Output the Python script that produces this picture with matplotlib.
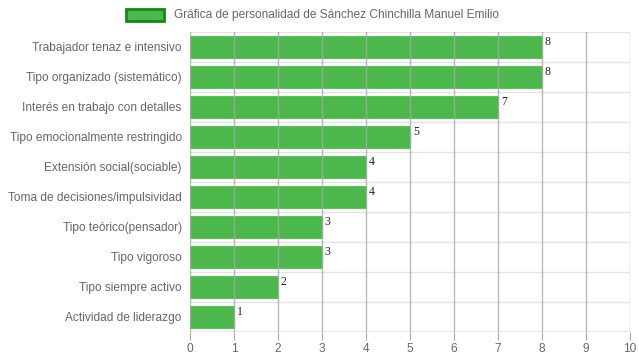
import matplotlib
matplotlib.use("Agg")
from matplotlib import pyplot as plt
from matplotlib.patches import Rectangle
import numpy as np

categories = [
    "Trabajador tenaz e intensivo",
    "Tipo organizado (sistemático)",
    "Interés en trabajo con detalles",
    "Tipo emocionalmente restringido",
    "Extensión social(sociable)",
    "Toma de decisiones/impulsividad",
    "Tipo teórico(pensador)",
    "Tipo vigoroso",
    "Tipo siempre activo",
    "Actividad de liderazgo",
]
values = [8, 8, 7, 5, 4, 4, 3, 3, 2, 1]
legend_label = "Gráfica de personalidad de Sánchez Chinchilla Manuel Emilio"

W, H = 639, 360
fig = plt.figure(figsize=(W / 100, H / 100), dpi=100)
ax = fig.add_axes([190 / W, 1 - 332 / H, 440 / W, 300 / H])

n = len(categories)
y = np.arange(n)
bar_color = "#4cb84c"
ax.barh(y, values, height=0.73, color=bar_color, edgecolor="#5cc45c",
        linewidth=0.8, zorder=2)

ax.set_xlim(0, 10)
ax.set_ylim(n - 0.5, -0.5)

# grid
for xv in range(0, 11):
    ax.axvline(xv, color="#a8a8a8", lw=1.0, zorder=3, alpha=0.8)
for k in range(n + 1):
    ax.axhline(k - 0.5, color="#e4e4e4", lw=1.0, zorder=1)
ax.axhline(n - 0.5, color="#999999", lw=1.0, zorder=3)

ax.set_yticks(y)
ax.set_yticklabels(categories, fontsize=8.6, color="#666666", family="Liberation Sans")
ax.set_xticks(range(0, 11))
ax.set_xticklabels([str(i) for i in range(0, 11)], fontsize=8.6, color="#666666",
                   family="Liberation Sans")
ax.tick_params(axis="y", length=0, pad=6)
ax.tick_params(axis="x", length=6, color="#a8a8a8", pad=2)
for s in ax.spines.values():
    s.set_visible(False)

for yi, v in zip(y, values):
    ax.annotate(str(v), (v, yi - 0.38), xytext=(2, 0), textcoords="offset points",
                ha="left", va="top", fontsize=8.5, family="Liberation Serif",
                color="#222222", zorder=4)

# legend (Chart.js style)
fig.patches.append(Rectangle((126 / W, 1 - 21 / H), 38 / W, 12 / H,
                             transform=fig.transFigure, facecolor=bar_color,
                             edgecolor="#138a13", linewidth=2))
fig.text(174 / W, 1 - 15 / H, legend_label, fontsize=8.6, color="#666666",
         family="Liberation Sans", va="center", ha="left")

fig.savefig("out.png", dpi=100)
